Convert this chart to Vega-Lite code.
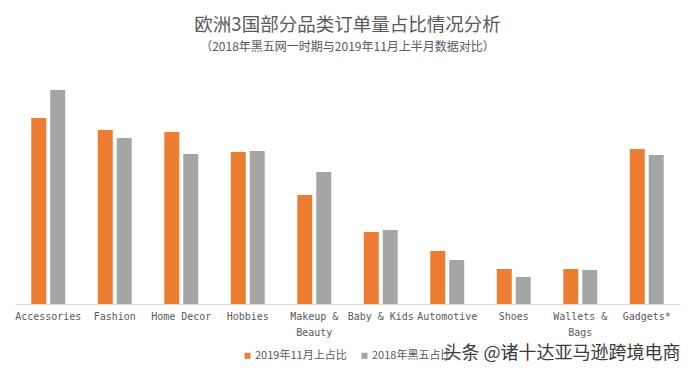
{
  "$schema": "https://vega.github.io/schema/vega-lite/v6.json",
  "width": 665,
  "height": 234,
  "autosize": {"type": "none"},
  "padding": {"left": 15, "top": 70, "right": 16, "bottom": 72},
  "background": "white",
  "title": {
    "text": "欧洲3国部分品类订单量占比情况分析",
    "subtitle": "（2018年黑五网一时期与2019年11月上半月数据对比）",
    "anchor": "middle",
    "font": "Noto Sans CJK SC",
    "fontSize": 18.5,
    "fontWeight": "normal",
    "color": "#595959",
    "subtitleFont": "Noto Sans CJK SC",
    "subtitleFontSize": 12,
    "subtitleColor": "#595959",
    "subtitlePadding": 8,
    "offset": 17
  },
  "data": {
    "values": [
      {"category": "Accessories", "series": "2019年11月上占比", "value": 18.6},
      {"category": "Accessories", "series": "2018年黑五占比", "value": 21.4},
      {"category": "Fashion", "series": "2019年11月上占比", "value": 17.4},
      {"category": "Fashion", "series": "2018年黑五占比", "value": 16.6},
      {"category": "Home Decor", "series": "2019年11月上占比", "value": 17.2},
      {"category": "Home Decor", "series": "2018年黑五占比", "value": 15.0},
      {"category": "Hobbies", "series": "2019年11月上占比", "value": 15.2},
      {"category": "Hobbies", "series": "2018年黑五占比", "value": 15.3},
      {"category": "Makeup & Beauty", "series": "2019年11月上占比", "value": 10.9},
      {"category": "Makeup & Beauty", "series": "2018年黑五占比", "value": 13.2},
      {"category": "Baby & Kids", "series": "2019年11月上占比", "value": 7.2},
      {"category": "Baby & Kids", "series": "2018年黑五占比", "value": 7.4},
      {"category": "Automotive", "series": "2019年11月上占比", "value": 5.3},
      {"category": "Automotive", "series": "2018年黑五占比", "value": 4.4},
      {"category": "Shoes", "series": "2019年11月上占比", "value": 3.5},
      {"category": "Shoes", "series": "2018年黑五占比", "value": 2.7},
      {"category": "Wallets & Bags", "series": "2019年11月上占比", "value": 3.5},
      {"category": "Wallets & Bags", "series": "2018年黑五占比", "value": 3.4},
      {"category": "Gadgets*", "series": "2019年11月上占比", "value": 15.5},
      {"category": "Gadgets*", "series": "2018年黑五占比", "value": 14.9}
    ]
  },
  "mark": {"type": "bar"},
  "encoding": {
    "x": {
      "field": "category",
      "type": "nominal",
      "sort": null,
      "scale": {"paddingInner": 0.49, "paddingOuter": 0.245},
      "axis": {
        "title": "头条 @诸十达亚马逊跨境电商",
        "titleFont": "Noto Sans CJK SC",
        "titleFontSize": 18,
        "titleFontWeight": "normal",
        "titleColor": "#3a3a3a",
        "titleAnchor": "end",
        "titlePadding": 7,
        "labelAngle": 0,
        "labelFont": "DejaVu Sans Mono",
        "labelFontSize": 10,
        "labelColor": "#595959",
        "labelPadding": 7,
        "labelLineHeight": 16,
        "labelExpr": "datum.value == 'Makeup & Beauty' ? ['Makeup &', 'Beauty'] : datum.value == 'Wallets & Bags' ? ['Wallets &', 'Bags'] : datum.value",
        "ticks": false,
        "domainColor": "#d9d9d9",
        "grid": false
      }
    },
    "xOffset": {
      "field": "series",
      "type": "nominal",
      "scale": {"domain": ["2019年11月上占比", "2018年黑五占比"], "paddingInner": 0.21}
    },
    "y": {
      "field": "value",
      "type": "quantitative",
      "scale": {"domain": [0, 23.4], "nice": false},
      "axis": null
    },
    "color": {
      "field": "series",
      "type": "nominal",
      "scale": {"domain": ["2019年11月上占比", "2018年黑五占比"], "range": ["#ED7D31", "#A5A5A5"]},
      "legend": {
        "title": null,
        "orient": "none",
        "legendX": 227,
        "legendY": 280,
        "direction": "horizontal",
        "symbolType": "square",
        "symbolSize": 36,
        "symbolStrokeWidth": 0,
        "labelFont": "Noto Sans CJK SC",
        "labelFontSize": 11,
        "labelColor": "#595959",
        "columnPadding": 12,
        "labelOffset": 2
      }
    }
  },
  "config": {"view": {"stroke": null}}
}
